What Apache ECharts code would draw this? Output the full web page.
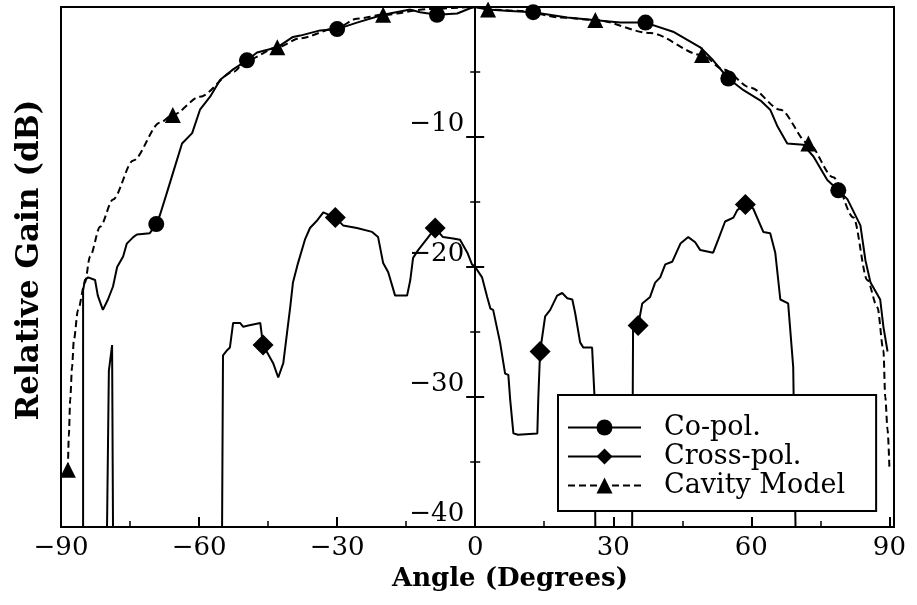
<!DOCTYPE html>
<html>
<head>
<meta charset="utf-8">
<script src="https://cdn.jsdelivr.net/npm/echarts@6/dist/echarts.min.js"></script>
<style>
  html, body { margin: 0; padding: 0; background: #fff; }
  #chart { width: 917px; height: 605px; }
</style>
</head>
<body>
<div id="chart"></div>
<script>
// Radiation pattern: angle (degrees) against relative gain (dB)

// Measured co-polar pattern
const coPolAngle = [-85.2,-85.2,-84.8,-84.1,-82.6,-82.0,-80.9,-79.8,-78.7,-77.8,-76.5,-75.7,-74.3,-73.5,-70.7,-69.3,-68.5,-67.0,-65.7,-63.7,-61.5,-59.8,-57.6,-55.4,-52.6,-49.6,-47.4,-43.0,-39.6,-38.0,-33.7,-30.0,-25.7,-20.0,-14.1,-12.0,-8.3,-3.9,-1.1,0,2.6,7.6,12.6,20.0,25.7,31.5,37.0,43.0,48.9,51.7,55.0,58.3,62.0,64.1,65.7,67.8,71.3,73.5,76.5,78.9,80.9,83.7,84.8,85.9,88.0,88.7,89.6];
const coPolGain = [-40,-21.8,-21.0,-20.8,-21.0,-22.2,-23.3,-22.5,-21.5,-20.0,-19.2,-18.2,-17.7,-17.5,-17.4,-16.7,-16.0,-14.3,-12.8,-10.5,-9.7,-7.9,-6.9,-5.6,-4.8,-4.1,-3.5,-3.1,-2.3,-2.2,-1.8,-1.7,-1.2,-0.6,-0.2,-0.4,-0.6,-0.5,-0.1,0,-0.2,-0.3,-0.4,-0.8,-1.0,-1.2,-1.2,-1.9,-3.1,-4.1,-5.5,-6.4,-7.2,-7.9,-9.2,-10.5,-10.6,-11.5,-13.3,-14.1,-14.8,-16.8,-19.5,-21.2,-22.5,-24.6,-26.5];
const coPolMarkAngle = [-69.3,-49.6,-30.0,-8.3,12.6,37.0,55.0,78.9];
const coPolMarkGain = [-16.7,-4.1,-1.7,-0.6,-0.4,-1.2,-5.5,-14.1];

// Measured cross-polar pattern (null = below the plotted range)
const crossPolAngle = [-80.0,-79.6,-78.9,-78.7,-67,
  -55.0,-54.8,-53.9,-53.3,-52.6,-51.1,-50.4,-49.3,-46.7,-46.1,-43.9,-42.8,-41.7,-40.9,-40.2,-39.6,-38.5,-37.0,-35.9,-34.3,-33.0,-30.4,-28.7,-25.7,-22.4,-21.1,-20.0,-18.9,-17.4,-14.8,-14.1,-13.5,-12.4,-11.3,-10.4,-8.7,-7.0,-4.8,-3.3,-1.7,-0.7,0,1.5,2.6,3.3,3.9,5.4,6.5,7.2,7.6,8.3,9.3,13.5,13.7,14.1,15.2,16.3,17.8,18.9,20.0,21.1,21.7,22.8,23.5,25.4,25.9,26.1,30,
  34.1,34.3,35.4,36.3,38.0,39.1,40.2,41.3,42.8,44.6,46.3,47.8,48.9,51.7,52.8,54.3,56.1,57.0,58.7,60.4,62.6,64.1,65.2,66.3,68.0,69.1,69.6];
const crossPolGain = [-40,-28,-26.0,-40,null,
  -40,-26.8,-26.4,-26.2,-24.3,-24.3,-24.6,-24.5,-24.3,-26.0,-27.4,-28.5,-27.4,-25.1,-23.1,-21.2,-19.7,-17.9,-17.0,-16.4,-15.8,-16.2,-16.8,-17.0,-17.3,-17.7,-19.7,-20.4,-22.2,-22.2,-21.0,-19.3,-18.7,-18.2,-17.8,-17.0,-17.7,-17.8,-17.9,-18.9,-19.8,-20.0,-20.8,-22.3,-23.2,-23.3,-25.8,-28.2,-28.3,-30.2,-32.8,-32.9,-32.8,-30.2,-26.5,-23.8,-23.3,-22.2,-22.0,-22.4,-22.5,-23.5,-25.8,-26.2,-26.2,-29.8,-40,null,
  -40,-24.8,-24.5,-22.8,-22.3,-21.2,-20.8,-19.8,-19.6,-18.2,-17.7,-18.1,-18.7,-18.9,-17.9,-16.5,-16.2,-15.6,-15.2,-15.5,-17.3,-17.4,-18.9,-22.5,-22.8,-27.7,-40];
const crossPolMarkAngle = [-46.1,-30.4,-8.7,14.1,35.4,58.7];
const crossPolMarkGain = [-26.0,-16.2,-17.0,-26.5,-24.5,-15.2];

// Cavity model prediction
const cavityAngle = [-88.5,-88.3,-88.0,-87.6,-87.2,-86.3,-84.8,-83.7,-81.5,-78.7,-74.3,-68.5,-65.7,-59.8,-52.6,-49.6,-43.0,-38.0,-30.0,-25.7,-20.0,-9.8,0,2.8,9.8,18.5,26.1,38.0,49.3,53.9,59.8,66.3,72.4,77.8,82.2,85.2,87.4,88.7,89.1,89.6,90.0];
const cavityGain = [-35.6,-33.0,-30.2,-27.7,-25.6,-23.3,-21.2,-19.2,-16.9,-14.8,-11.8,-8.9,-8.3,-6.9,-5.0,-4.1,-3.1,-2.4,-1.6,-0.9,-0.6,-0.15,0,-0.2,-0.3,-0.8,-1.0,-2.0,-3.7,-4.8,-6.2,-7.9,-10.5,-13.1,-16.2,-21.0,-23.1,-26.4,-30.0,-32.5,-35.4];
const cavityMarkAngle = [-88.5,-65.7,-43.0,-20.0,2.8,26.1,49.3,72.4];
const cavityMarkGain = [-35.6,-8.3,-3.1,-0.6,-0.2,-1.0,-3.7,-10.5];

// Axis ticks and labels
const xMajorTicks = [-90,-60,-30,0,30,60,90];
const xMinorTicks = [-75,-45,-15,15,45,75];
const yTickLabels = [-40,-30,-20,-10];

const FONT = 'DejaVu Serif';
const INK = '#000';
const pairs = (xs, ys) => xs.map((x, i) => [x, ys[i]]);
const signed = v => (v < 0 ? '\u2212' + Math.abs(v) : String(v));

const xRange = { min: -90, max: 91 };
const yRange = { min: -40, max: 0, interval: 10 };
const plot = { left: 61, top: 7, width: 833, height: 520 };

// The gain axis stands at angle 0: shift each centre axis in from its grid edge
const zeroFromLeft = plot.width * (0 - xRange.min) / (xRange.max - xRange.min);
const zeroFromRight = plot.width - zeroFromLeft;

const chart = echarts.init(document.getElementById('chart'), null, { renderer: 'canvas' });

const centreAxis = (position, shift, withLabels) => Object.assign({
  type: 'value',
  position: position,
  offset: -shift,
  axisLine: { show: true, onZero: false, lineStyle: { color: INK, width: 2 } },
  axisTick: { show: true, inside: false, length: 9, lineStyle: { color: INK, width: 2 } },
  minorTick: { show: true, splitNumber: 2, length: 5, lineStyle: { color: INK, width: 1.5 } },
  axisLabel: withLabels ? {
    customValues: yTickLabels,
    formatter: signed,
    verticalAlign: 'bottom',
    margin: 11,
    color: INK,
    fontFamily: FONT,
    fontSize: 26
  } : { show: false },
  splitLine: { show: false },
  minorSplitLine: { show: false }
}, yRange);

const lineSeries = (name, xs, ys, symbol, dashed) => ({
  name: name,
  type: 'line',
  xAxisIndex: 0,
  yAxisIndex: 0,
  data: pairs(xs, ys),
  symbol: symbol,
  symbolSize: 16,
  showSymbol: false,
  connectNulls: false,
  smooth: dashed ? 0.3 : false,
  smoothMonotone: dashed ? 'x' : undefined,
  lineStyle: { color: INK, width: 2, type: dashed ? [7, 4] : 'solid' },
  itemStyle: { color: INK, opacity: 1 },
  z: 3
});

const markerSeries = (name, xs, ys, symbol, size) => ({
  name: name,
  type: 'scatter',
  xAxisIndex: 0,
  yAxisIndex: 0,
  data: pairs(xs, ys),
  symbol: symbol,
  symbolSize: size,
  itemStyle: { color: INK, opacity: 1 },
  z: 4
});

chart.setOption({
  animation: false,
  backgroundColor: '#fff',
  grid: Object.assign({
    show: true, borderColor: INK, borderWidth: 2,
    containLabel: false, outerBoundsMode: 'none'
  }, plot),
  xAxis: [
    Object.assign({
      type: 'value',
      position: 'bottom',
      axisLine: { show: true, onZero: false, lineStyle: { color: INK, width: 2 } },
      axisTick: { show: true, inside: true, length: 10, customValues: xMajorTicks, lineStyle: { color: INK, width: 2 } },
      axisLabel: { customValues: xMajorTicks, formatter: signed, margin: 8, color: INK, fontFamily: FONT, fontSize: 26 },
      splitLine: { show: false },
      name: 'Angle (Degrees)',
      nameLocation: 'middle',
      nameGap: 36,
      nameTextStyle: { fontFamily: FONT, fontWeight: 'bold', fontSize: 26, color: INK, padding: [0, 0, 0, 65] }
    }, xRange),
    Object.assign({
      type: 'value',
      position: 'bottom',
      axisLine: { show: false, onZero: false },
      axisTick: { show: true, inside: true, length: 6, customValues: xMinorTicks, lineStyle: { color: INK, width: 1.5 } },
      axisLabel: { show: false },
      splitLine: { show: false }
    }, xRange)
  ],
  yAxis: [
    centreAxis('left', zeroFromLeft, true),
    centreAxis('right', zeroFromRight, false),
    Object.assign({
      type: 'value',
      position: 'left',
      axisLine: { show: false, onZero: false },
      axisTick: { show: false },
      axisLabel: { show: false },
      splitLine: { show: false },
      name: 'Relative Gain (dB)',
      nameLocation: 'middle',
      nameRotate: 90,
      nameGap: 16,
      nameTextStyle: { fontFamily: FONT, fontWeight: 'bold', fontSize: 31, color: INK, padding: [0, 0, 0, 14] }
    }, yRange)
  ],
  legend: {
    data: ['Co-pol.', 'Cross-pol.', 'Cavity Model'],
    orient: 'vertical',
    left: 558,
    top: 395,
    itemWidth: 73,
    itemHeight: 20,
    itemGap: 2,
    padding: [19, 31, 12, 9],
    backgroundColor: '#fff',
    borderColor: INK,
    borderWidth: 2,
    borderRadius: 0,
    selectedMode: false,
    textStyle: { fontFamily: FONT, fontSize: 27, lineHeight: 27, color: INK, padding: [0, 0, 0, 18] }
  },
  series: [
    lineSeries('Co-pol.', coPolAngle, coPolGain, 'circle', false),
    lineSeries('Cross-pol.', crossPolAngle, crossPolGain, 'diamond', false),
    lineSeries('Cavity Model', cavityAngle, cavityGain, 'triangle', true),
    markerSeries('Co-pol. points', coPolMarkAngle, coPolMarkGain, 'circle', 16),
    markerSeries('Cross-pol. points', crossPolMarkAngle, crossPolMarkGain, 'diamond', 21),
    markerSeries('Cavity Model points', cavityMarkAngle, cavityMarkGain, 'triangle', 16)
  ]
});
</script>
</body>
</html>
